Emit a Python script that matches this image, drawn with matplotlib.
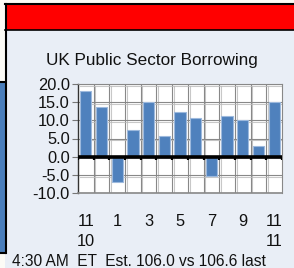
import matplotlib
matplotlib.use("Agg")
import matplotlib.pyplot as plt
import matplotlib.patheffects as pe
from matplotlib.patches import Rectangle
import numpy as np

plt.rcParams['font.family'] = ['Liberation Sans', 'DejaVu Sans']

title = "UK Public Sector Borrowing"
months = ["11\n10", "12", "1", "2", "3", "4", "5", "6", "7", "8", "9", "10", "11\n11"]
values = [18.1, 13.7, -7.0, 7.3, 15.0, 5.7, 12.4, 10.6, -5.3, 11.2, 10.1, 2.9, 15.1]
shown_labels = ["11\n10", "", "1", "", "3", "", "5", "", "7", "", "9", "", "11\n11"]
yticks = [20.0, 15.0, 10.0, 5.0, 0.0, -5.0, -10.0]
footer = "4:30 AM  ET  Est. 106.0 vs 106.6 last"

W, H = 294, 268
fig = plt.figure(figsize=(W / 100, H / 100), dpi=100)
fig.patch.set_facecolor('#FCFBF6')

def fx(px):
    return px / W

def fy(py):
    return 1 - py / H

# panel background
fig.add_artist(Rectangle((fx(5), 0), 1, fy(4), transform=fig.transFigure,
                         facecolor='#E9EEF6', edgecolor='none', zorder=0))
# red header
fig.add_artist(Rectangle((fx(5), fy(29.5)), 1, fy(4) - fy(29.5), transform=fig.transFigure,
                         facecolor='#FF0000', edgecolor='none', zorder=1))
# border lines
fig.add_artist(plt.Line2D([fx(5), 1], [fy(4), fy(4)], transform=fig.transFigure, color='black', lw=1.5, zorder=2))
fig.add_artist(plt.Line2D([fx(5), 1], [fy(29.5), fy(29.5)], transform=fig.transFigure, color='black', lw=1.2, zorder=2))
fig.add_artist(plt.Line2D([fx(5.5), fx(5.5)], [fy(4), fy(253)], transform=fig.transFigure, color='black', lw=1.5, zorder=2))
# left blue strip
fig.add_artist(Rectangle((0, fy(252)), fx(5), fy(82) - fy(252), transform=fig.transFigure,
                         facecolor='#4A7EBB', edgecolor='none', zorder=1))
fig.add_artist(plt.Line2D([0, fx(5)], [fy(81.5), fy(81.5)], transform=fig.transFigure, color='black', lw=1.5, zorder=2))
fig.add_artist(plt.Line2D([0, fx(5)], [fy(252.5), fy(252.5)], transform=fig.transFigure, color='black', lw=1.5, zorder=2))

fig.text(fx(152), fy(61), title, ha='center', va='center', fontsize=12.3, color='#111111')
fig.text(fx(12), fy(261), footer, ha='left', va='center', fontsize=11.2, color='#111111')

ax = fig.add_axes([fx(78), fy(193), fx(282) - fx(78), fy(84) - fy(193)])
ax.set_facecolor('white')
x = np.arange(len(values))
ax.bar(x, values, width=0.72, color='#4F81BD', edgecolor='#9DB9DD', linewidth=0.8, zorder=3)
ax.set_xlim(-0.5, len(values) - 0.5)
ax.set_ylim(-10, 20)

shadow = [pe.SimpleLineShadow(offset=(1.2, -1.2), shadow_color='#BBBBBB', alpha=0.8), pe.Normal()]
for b in np.arange(len(values) - 1) + 0.5:
    ax.axvline(b, color='#888888', lw=0.8, zorder=1, path_effects=shadow)
for yv in yticks:
    ax.axhline(yv, color='#888888', lw=0.8, zorder=1, path_effects=shadow)

ax.axhline(0, color='black', lw=2.6, zorder=4)
for b in np.arange(len(values) + 1) - 0.5:
    ax.plot([b, b], [0, -0.9], color='black', lw=1.6, zorder=4, solid_capstyle='butt')

ax.set_yticks(yticks)
ax.set_yticklabels([f"{v:.1f}" for v in yticks], fontsize=11.8, color='#111111')
ax.set_xticks(x)
ax.set_xticklabels(shown_labels, fontsize=11.8, color='#111111', linespacing=1.45)
ax.tick_params(axis='x', length=0, pad=15)
ax.tick_params(axis='y', length=4, color='#777777', pad=2)

for s in ['top', 'right']:
    ax.spines[s].set_color('#888888')
    ax.spines[s].set_linewidth(0.8)
ax.spines['bottom'].set_color('#888888')
ax.spines['bottom'].set_linewidth(1.2)
ax.spines['left'].set_color('#333333')
ax.spines['left'].set_linewidth(1.0)

fig.savefig('out.png', dpi=100, facecolor=fig.get_facecolor())
